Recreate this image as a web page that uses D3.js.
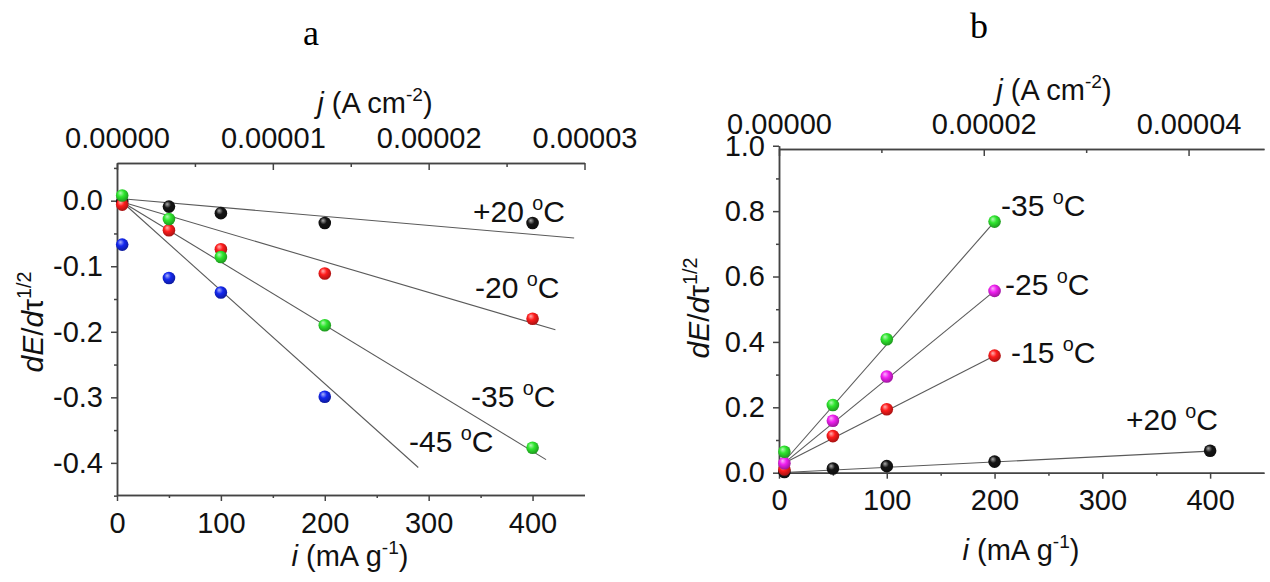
<!DOCTYPE html>
<html>
<head>
<meta charset="utf-8">
<script src="https://cdn.jsdelivr.net/npm/d3@7"></script>
<style>
  body { margin: 0; background: #fff; }
</style>
</head>
<body>
<script>
const width = 1270;
const height = 582;
const svg = d3.select("body").append("svg")
  .attr("width", width)
  .attr("height", height)
  .style("font-family", "'Liberation Sans', Arial, sans-serif");

///////////////////////////////// data
// panel a : dE/dtau^1/2 vs i
const currentA = [5, 50, 100, 200, 400];
const plus20A = [-0.002, -0.009, -0.019, -0.034, -0.034];
const minus20A = [-0.006, -0.045, -0.074, -0.111, -0.180];
const minus35A = [0.008, -0.028, -0.086, -0.190, -0.377];
const minus45A = [-0.067, -0.118, -0.140, -0.299]; // no 400 point
// linear fits (start, end)
const fitPlus20A = [[5, 0.003], [440, -0.057]];
const fitMinus20A = [[5, -0.002], [422, -0.197]];
const fitMinus35A = [[5, -0.002], [413, -0.395]];
const fitMinus45A = [[5, -0.002], [290, -0.407]];

// panel b
const currentB = [5, 50, 100, 200, 400];
const plus20B = [0.002, 0.013, 0.020, 0.034, 0.067];
const minus15B = [0.010, 0.112, 0.194, 0.358];
const minus25B = [0.029, 0.159, 0.294, 0.556];
const minus35B = [0.064, 0.207, 0.408, 0.768];
const fitPlus20B = [[0, 0.0], [400, 0.066]];
const fitMinus15B = [[5, 0.03], [200, 0.358]];
const fitMinus25B = [[5, 0.03], [200, 0.556]];
const fitMinus35B = [[5, 0.035], [200, 0.768]];

// ticks
const xTicks = [0, 100, 200, 300, 400];
const xMinor = [50, 150, 250, 350];
const yTicksA = [-0.4, -0.3, -0.2, -0.1, 0.0];
const yMinorA = [-0.45, -0.35, -0.25, -0.15, -0.05, 0.05];
const topTicksA = [0, 0.00001, 0.00002, 0.00003];
const topMinorA = [0.000005, 0.000015, 0.000025];
const yTicksB = [0, 0.2, 0.4, 0.6, 0.8, 1.0];
const yMinorB = [0.1, 0.3, 0.5, 0.7, 0.9];
const topTicksB = [0, 0.00002, 0.00004];
const topMinorB = [0.00001, 0.00003];

const colors = { black: "#151515", red: "#ff1c1c", green: "#2ee62e", blue: "#1428f0", magenta: "#f020f0" };
const FS = 29;

///////////////////////////////// sphere gradients
const defs = svg.append("defs");
Object.entries(colors).forEach(([k, c]) => {
  const g = defs.append("radialGradient").attr("id", "ball-" + k)
    .attr("cx", "45%").attr("cy", "40%").attr("r", "60%").attr("fx", "35%").attr("fy", "30%");
  g.append("stop").attr("offset", "0%").attr("stop-color", d3.interpolateRgb(c, "#fff")(0.65));
  g.append("stop").attr("offset", "45%").attr("stop-color", c);
  g.append("stop").attr("offset", "100%").attr("stop-color", d3.interpolateRgb(c, "#000")(0.35));
});

///////////////////////////////// scales
const xA = d3.scaleLinear().domain([0, 450]).range([117, 584.5]);
const yA = d3.scaleLinear().domain([-0.449, 0.0575]).range([495, 163]);
const jA = d3.scaleLinear().domain([0, 0.00003]).range([117, 584.5]);

const xB = d3.scaleLinear().domain([0, 450]).range([779, 1264]);
const yB = d3.scaleLinear().domain([0, 0.99]).range([472.7, 149]);
const jB = d3.scaleLinear().domain([0, 0.00004 * 450 / 380]).range([779, 1264]);

///////////////////////////////// helpers
const styleAxis = (g) => {
  g.attr("font-size", FS).attr("font-family", null);
  g.selectAll("path, line").attr("stroke", "#444").attr("stroke-width", 1.5);
  g.selectAll("text").attr("fill", "#111");
};

const drawAxes = (x, y, j, yTicks, yMinor, topTicks, topMinor, yExt) => {
  const bottom = y.range()[0];
  const top = y.range()[1];
  const left = x.range()[0];
  // bottom
  svg.append("g").attr("transform", `translate(0,${bottom})`)
    .call(d3.axisBottom(x).tickValues(xMinor).tickFormat("").tickSize(3).tickSizeOuter(0))
    .call(styleAxis);
  svg.append("g").attr("transform", `translate(0,${bottom})`)
    .call(d3.axisBottom(x).tickValues(xTicks).tickFormat(d3.format("d")).tickSize(6).tickPadding(11).tickSizeOuter(0))
    .call(styleAxis);
  // left (scale copy so the line may run past the plot top)
  const yl = y.copy().domain(yExt).range(yExt.map(y));
  svg.append("g").attr("transform", `translate(${left},0)`)
    .call(d3.axisLeft(yl).tickValues(yMinor).tickFormat("").tickSize(3).tickSizeOuter(0))
    .call(styleAxis);
  svg.append("g").attr("transform", `translate(${left},0)`)
    .call(d3.axisLeft(yl).tickValues(yTicks).tickFormat((d) => d.toFixed(1)).tickSize(6).tickPadding(8).tickSizeOuter(0))
    .call(styleAxis);
  // top, ticks pointing inward
  svg.append("g").attr("transform", `translate(0,${top})`)
    .call(d3.axisTop(j).tickValues(topMinor).tickFormat("").tickSize(-4).tickSizeOuter(0))
    .call(styleAxis);
  svg.append("g").attr("transform", `translate(0,${top})`)
    .call(d3.axisTop(j).tickValues(topTicks).tickFormat((d) => d.toFixed(5)).tickSize(-7).tickPadding(15).tickSizeOuter(0))
    .call(styleAxis);
};

const supText = (x, y, parts, opts = {}) => {
  const size = opts.size || FS;
  const t = svg.append("text")
    .attr("x", x).attr("y", y)
    .attr("font-size", size)
    .attr("text-anchor", opts.anchor || "start")
    .attr("fill", "#111");
  if (opts.rotate) t.attr("transform", `rotate(-90,${x},${y})`);
  parts.forEach(([s, kind]) => {
    const sp = t.append("tspan").text(s);
    if (kind === "i") sp.attr("font-style", "italic");
    if (kind === "sup") sp.attr("dy", -size * 0.4).attr("font-size", size * 0.66);
    if (kind === "down") sp.attr("dy", size * 0.4);
  });
  return t;
};

const drawFit = (x, y, fit) => {
  svg.append("line")
    .attr("x1", x(fit[0][0])).attr("y1", y(fit[0][1]))
    .attr("x2", x(fit[1][0])).attr("y2", y(fit[1][1]))
    .attr("stroke", "#5a5a5a").attr("stroke-width", 1.1);
};

const drawBalls = (x, y, xs, vals, colorKey) => {
  svg.append("g").selectAll("circle")
    .data(vals.map((v, i) => [xs[i], v]))
    .join("circle")
    .attr("cx", (d) => x(d[0]))
    .attr("cy", (d) => y(d[1]))
    .attr("r", 6.3)
    .attr("fill", `url(#ball-${colorKey})`);
};

const tempLabel = (x, y, num) => {
  supText(x, y, [[num + " "], ["o", "sup"], ["C", "down"]], { size: 30 });
};

///////////////////////////////// panel a
svg.append("text").attr("x", 311).attr("y", 45).attr("text-anchor", "middle")
  .attr("font-family", "'Liberation Serif', 'Times New Roman', serif").attr("font-size", 36).text("a");

drawAxes(xA, yA, jA, yTicksA, yMinorA, topTicksA, topMinorA, [-0.449, 0.0575]);

supText(375, 113, [["j", "i"], [" (A cm"], ["-2", "sup"], [")", "down"]], { anchor: "middle" });
supText(350, 566, [["i", "i"], [" (mA g"], ["-1", "sup"], [")", "down"]], { anchor: "middle" });
supText(43, 322, [["dE", "i"], ["/"], ["d", "i"], ["τ"], ["1/2", "sup"]], { anchor: "middle", rotate: true, size: 30 });

drawFit(xA, yA, fitPlus20A);
drawFit(xA, yA, fitMinus20A);
drawFit(xA, yA, fitMinus35A);
drawFit(xA, yA, fitMinus45A);
drawBalls(xA, yA, currentA, plus20A, "black");
drawBalls(xA, yA, currentA, minus20A, "red");
drawBalls(xA, yA, currentA, minus35A, "green");
drawBalls(xA, yA, currentA, minus45A, "blue");

tempLabel(473, 222, "+20");
tempLabel(475, 298, "-20");
tempLabel(471, 407, "-35");
tempLabel(409, 452, "-45");

///////////////////////////////// panel b
svg.append("text").attr("x", 979).attr("y", 38).attr("text-anchor", "middle")
  .attr("font-family", "'Liberation Serif', 'Times New Roman', serif").attr("font-size", 36).text("b");

drawAxes(xB, yB, jB, yTicksB, yMinorB, topTicksB, topMinorB, [0, 1.0]);

supText(1054, 100, [["j", "i"], [" (A cm"], ["-2", "sup"], [")", "down"]], { anchor: "middle" });
supText(1021, 560, [["i", "i"], [" (mA g"], ["-1", "sup"], [")", "down"]], { anchor: "middle" });
supText(709, 308, [["dE", "i"], ["/"], ["d", "i"], ["τ"], ["1/2", "sup"]], { anchor: "middle", rotate: true, size: 30 });

drawFit(xB, yB, fitPlus20B);
drawFit(xB, yB, fitMinus15B);
drawFit(xB, yB, fitMinus25B);
drawFit(xB, yB, fitMinus35B);
drawBalls(xB, yB, currentB, plus20B, "black");
drawBalls(xB, yB, currentB, minus15B, "red");
drawBalls(xB, yB, currentB, minus25B, "magenta");
drawBalls(xB, yB, currentB, minus35B, "green");

tempLabel(1001, 216, "-35");
tempLabel(1005, 295, "-25");
tempLabel(1011, 363, "-15");
tempLabel(1126, 430, "+20");
</script>
</body>
</html>
